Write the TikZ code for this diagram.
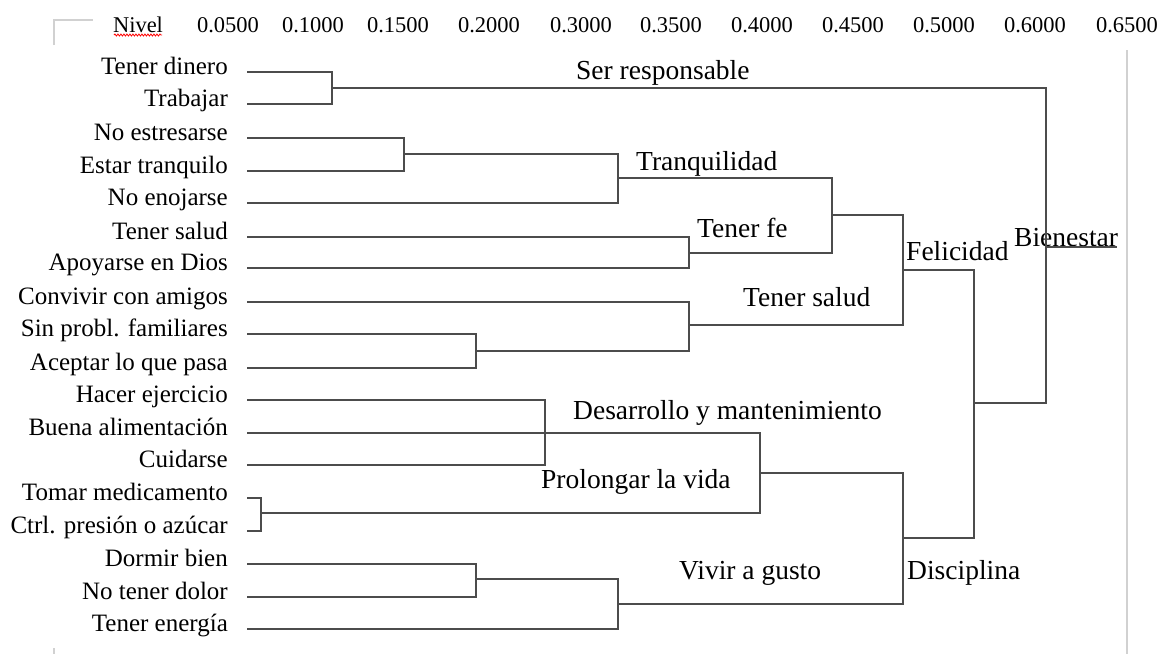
\documentclass[tikz,border=0pt]{standalone}
\usepackage{fontspec}
\setmainfont{Liberation Serif}
\usetikzlibrary{decorations.pathmorphing}

\begin{document}
\begin{tikzpicture}[x=1pt, y=-1pt,
    leaf/.style = {anchor=mid east, inner xsep=19pt, inner ysep=0pt, font=\fontsize{25}{25}\selectfont},
    tag/.style = {anchor=base west, inner sep=0pt, font=\fontsize{27.5}{28}\selectfont},
    lvl/.style = {anchor=base, inner sep=0pt, font=\fontsize{22.5}{23}\selectfont},
    link/.style = {draw=black!70, line width=1.7pt},
    frame/.style = {draw=black!18, line width=1.5pt}]
    \useasboundingbox (0,0) rectangle (1159,654);

    % header
    \draw[frame] (54,45) -- (54,20) -- (93,20);
    \draw[frame] (54,648) -- (54,654);
    \draw[frame] (1127,50) -- (1127,654);
    \node[lvl] (nivel) at (138,32) {Nivel};
    \draw[red, line width=0.8pt, decorate, decoration={snake, amplitude=1pt, segment length=3pt}] (114,35) -- (162,35);
    \node[lvl] (h1) at (228,32) {0.0500};
    \node[lvl] (h2) at (313,32) {0.1000};
    \node[lvl] (h3) at (398,32) {0.1500};
    \node[lvl] (h4) at (489,32) {0.2000};
    \node[lvl] (h5) at (581,32) {0.3000};
    \node[lvl] (h6) at (671,32) {0.3500};
    \node[lvl] (h7) at (762,32) {0.4000};
    \node[lvl] (h8) at (853,32) {0.4500};
    \node[lvl] (h9) at (944,32) {0.5000};
    \node[lvl] (h10) at (1035,32) {0.6000};
    \node[lvl] (h11) at (1127,32) {0.6500};

    % leaves
    \node[leaf] (1) at (247,72) {Tener dinero};
    \node[leaf] (2) at (247,104) {Trabajar};
    \node[leaf] (3) at (247,138) {No estresarse};
    \node[leaf] (4) at (247,171) {Estar tranquilo};
    \node[leaf] (5) at (247,203) {No enojarse};
    \node[leaf] (6) at (247,237) {Tener salud};
    \node[leaf] (7) at (247,268) {Apoyarse en Dios};
    \node[leaf] (8) at (247,302) {Convivir con amigos};
    \node[leaf] (9) at (247,334) {Sin probl. familiares};
    \node[leaf] (10) at (247,368) {Aceptar lo que pasa};
    \node[leaf] (11) at (247,400) {Hacer ejercicio};
    \node[leaf] (12) at (247,433) {Buena alimentación};
    \node[leaf] (13) at (247,465) {Cuidarse};
    \node[leaf] (14) at (247,498) {Tomar medicamento};
    \node[leaf] (15) at (247,531) {Ctrl. presión o azúcar};
    \node[leaf] (16) at (247,564) {Dormir bien};
    \node[leaf] (17) at (247,597) {No tener dolor};
    \node[leaf] (18) at (247,629) {Tener energía};

    % joins
    \coordinate (resp) at (332,88);
    \coordinate (estr) at (404,154);
    \coordinate (tranq) at (618,178);
    \coordinate (fe) at (689,253);
    \coordinate (tf) at (832,215);
    \coordinate (amig) at (476,351);
    \coordinate (salud) at (689,325);
    \coordinate (felic) at (903,270);
    \coordinate (ejer) at (545,433);
    \coordinate (medic) at (261,513);
    \coordinate (prol) at (760,473);
    \coordinate (dorm) at (476,579);
    \coordinate (vivir) at (618,604);
    \coordinate (disc) at (903,538);
    \coordinate (fd) at (974,403);
    \coordinate (bien) at (1046,247);
    \coordinate (top) at (1117,247);

    % cluster names
    \node[tag] (t1) at (576,79) {Ser responsable};
    \node[tag] (t2) at (636,170) {Tranquilidad};
    \node[tag] (t3) at (697,237) {Tener fe};
    \node[tag] (t4) at (906,260) {Felicidad};
    \node[tag] (t5) at (1014,246) {Bienestar};
    \node[tag] (t6) at (743,306) {Tener salud};
    \node[tag] (t7) at (573,419) {Desarrollo y mantenimiento};
    \node[tag] (t8) at (541,488) {Prolongar la vida};
    \node[tag] (t9) at (679,579) {Vivir a gusto};
    \node[tag] (t10) at (907,579) {Disciplina};

    \draw[link] (1.mid east) -| (resp);
    \draw[link] (2.mid east) -| (resp);
    \draw[link] (3.mid east) -| (estr);
    \draw[link] (4.mid east) -| (estr);
    \draw[link] (estr) -| (tranq);
    \draw[link] (5.mid east) -| (tranq);
    \draw[link] (6.mid east) -| (fe);
    \draw[link] (7.mid east) -| (fe);
    \draw[link] (tranq) -| (tf);
    \draw[link] (fe) -| (tf);
    \draw[link] (9.mid east) -| (amig);
    \draw[link] (10.mid east) -| (amig);
    \draw[link] (8.mid east) -| (salud);
    \draw[link] (amig) -| (salud);
    \draw[link] (tf) -| (felic);
    \draw[link] (salud) -| (felic);
    \draw[link] (11.mid east) -| (ejer);
    \draw[link] (12.mid east) -| (ejer);
    \draw[link] (13.mid east) -| (ejer);
    \draw[link] (14.mid east) -| (medic);
    \draw[link] (15.mid east) -| (medic);
    \draw[link] (ejer) -| (prol);
    \draw[link] (medic) -| (prol);
    \draw[link] (16.mid east) -| (dorm);
    \draw[link] (17.mid east) -| (dorm);
    \draw[link] (dorm) -| (vivir);
    \draw[link] (18.mid east) -| (vivir);
    \draw[link] (prol) -| (disc);
    \draw[link] (vivir) -| (disc);
    \draw[link] (felic) -| (fd);
    \draw[link] (disc) -| (fd);
    \draw[link] (resp) -| (bien);
    \draw[link] (fd) -| (bien);
    \draw[link] (bien) -- (top);
\end{tikzpicture}
\end{document}
